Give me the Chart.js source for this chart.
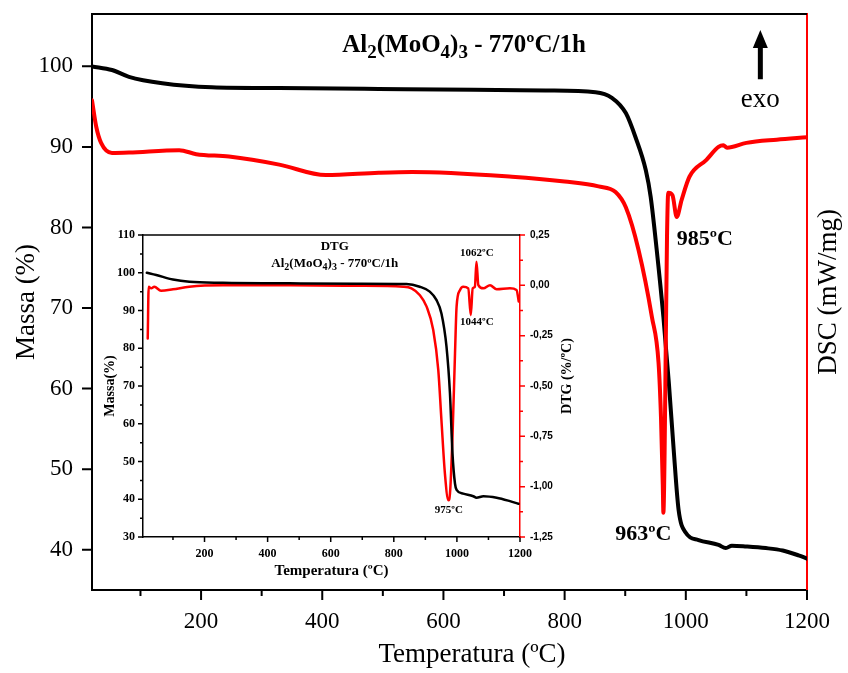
<!DOCTYPE html>
<html>
<head>
<meta charset="utf-8">
<script src="https://cdn.jsdelivr.net/npm/chart.js@4.4.0/dist/chart.umd.min.js"></script>
<style>
  html, body { margin: 0; padding: 0; background: #fff; }
  #wrap { position: relative; width: 848px; height: 673px; }
  #mainChart { position: absolute; left: 0; top: 0; }
  #insetChart { position: absolute; left: 90px; top: 222px; }
</style>
</head>
<body>
<div id="wrap">
  <canvas id="mainChart" width="848" height="673"></canvas>
  <canvas id="insetChart" width="500" height="363"></canvas>
</div>
<script>
// main TG curve (black): temperature ºC / mass %
const tgTemp = [20, 53, 81, 136, 218, 329, 493, 650, 769, 851, 878, 901, 917, 934, 942, 952, 963, 972, 980, 988, 1000, 1021, 1054, 1066, 1076, 1100, 1132, 1160, 1186, 1200];
const tgMass = [100.0, 99.55, 98.7, 97.9, 97.4, 97.3, 97.2, 97.1, 97.0, 96.8, 96.1, 94.2, 91.2, 87.1, 83.8, 77.2, 68.9, 60.7, 52.4, 45.0, 42.1, 41.2, 40.6, 40.2, 40.5, 40.4, 40.2, 39.9, 39.3, 38.9];

// main DSC curve (red) - the DSC axis has no ticks, so relative units
const dscTemp = [20, 27, 35, 53, 81, 164, 192, 246, 329, 406, 493, 548, 713, 800, 856, 884, 901, 922, 944, 955, 959, 962, 963, 965, 967, 969, 971, 978, 985, 993, 1006, 1034, 1054, 1062, 1068, 1100, 1150, 1200];
const dscSignal = [95.8, 92.5, 90.5, 89.25, 89.3, 89.6, 89.1, 88.8, 87.8, 86.5, 86.8, 86.9, 86.3, 85.7, 85.1, 84.4, 82.5, 77.2, 68.9, 63.2, 56.5, 48.0, 44.6, 52.0, 66.0, 79.0, 84.3, 84.0, 81.3, 83.4, 86.3, 88.4, 90.0, 90.2, 89.9, 90.5, 90.9, 91.2];

// inset TG curve
const insetTgTemp = [17, 47, 100, 152, 258, 470, 681, 840, 882, 914, 935, 951, 967, 978, 986, 994, 999, 1020, 1052, 1062, 1084, 1126, 1168, 1195];
const insetTgMass = [100.0, 99.4, 98.2, 97.6, 97.35, 97.2, 97.1, 97.0, 96.3, 95.0, 92.8, 89.2, 80.4, 68.0, 52.1, 44.1, 42.5, 41.5, 40.8, 40.4, 40.8, 40.4, 39.5, 38.8];

// inset DTG curve (%/ºC)
const dtgTemp = [20, 23, 31, 41, 62, 100, 152, 258, 470, 681, 830, 856, 882, 904, 925, 941, 951, 962, 973, 978, 986, 994, 999, 1010, 1020, 1036, 1044, 1050, 1057, 1062, 1068, 1084, 1105, 1126, 1168, 1189, 1196];
const dtgValue = [-0.264, -0.007, -0.015, -0.007, -0.027, -0.02, -0.007, 0.0, 0.0, -0.002, -0.007, -0.015, -0.048, -0.106, -0.222, -0.421, -0.67, -0.935, -1.068, -1.035, -0.753, -0.338, -0.106, -0.023, -0.007, -0.015, -0.148, -0.015, -0.007, 0.117, 0.001, -0.015, 0.001, -0.02, -0.015, -0.023, -0.08];

const mainTempTicks = [200, 400, 600, 800, 1000, 1200];
const mainTempMinor = [100, 300, 500, 700, 900, 1100];
const mainMassTicks = [40, 50, 60, 70, 80, 90, 100];
const insetTempTicks = [200, 400, 600, 800, 1000, 1200];
const insetTempMinor = [100, 300, 500, 700, 900, 1100];
const insetMassTicks = [30, 40, 50, 60, 70, 80, 90, 100, 110];
const insetMassMinor = [35, 45, 55, 65, 75, 85, 95, 105];
const dtgTicks = [-1.25, -1, -0.75, -0.5, -0.25, 0, 0.25];
const dtgMinor = [-1.125, -0.875, -0.625, -0.375, -0.125, 0.125];

const RED = '#ff0000';
const serif = "'Liberation Serif', 'Times New Roman', serif";
const sans = "'Liberation Sans', Arial, sans-serif";
Chart.defaults.font.family = serif;
Chart.defaults.color = '#000';

const pairs = (xs, ys) => xs.map((x, i) => ({ x: x, y: ys[i] }));
const fixTicks = vals => scale => { scale.ticks = vals.map(v => ({ value: v })); };
const plain = v => String(v);

// draws text with subscript parts: parts = [[text, isSub], ...]
function drawRich(ctx, parts, x, y, size, weight, align) {
    const subSize = Math.round(size * 0.75);
    let total = 0;
    parts.forEach(p => {
        ctx.font = `${weight} ${p[1] ? subSize : size}px ${serif}`;
        total += ctx.measureText(p[0]).width;
    });
    let cx = align === 'center' ? x - total / 2 : (align === 'right' ? x - total : x);
    ctx.textAlign = 'left';
    ctx.textBaseline = 'alphabetic';
    parts.forEach(p => {
        ctx.font = `${weight} ${p[1] ? subSize : size}px ${serif}`;
        ctx.fillText(p[0], cx, p[1] ? y + size * 0.25 : y);
        cx += ctx.measureText(p[0]).width;
    });
}

function drawVertical(ctx, text, x, y, font) {
    ctx.save();
    ctx.translate(x, y);
    ctx.rotate(-Math.PI / 2);
    ctx.font = font;
    ctx.textAlign = 'center';
    ctx.textBaseline = 'middle';
    ctx.fillText(text, 0, 0);
    ctx.restore();
}

// vertical axes: no extra top/bottom room for the end labels
const fitVertical = w => s => { s.width = w; s.paddingTop = 0; s.paddingBottom = 0; };

// outward tick marks, major and minor
const tickMarks = {
    id: 'tickMarks',
    afterDraw(chart, args, opts) {
        const ctx = chart.ctx;
        ctx.save();
        (opts.marks || []).forEach(m => {
            const scale = chart.scales[m.axis];
            ctx.strokeStyle = m.color;
            ctx.lineWidth = m.width;
            ctx.beginPath();
            m.values.forEach(v => {
                const p = scale.getPixelForValue(v);
                if (scale.isHorizontal()) {
                    ctx.moveTo(p, scale.top);
                    ctx.lineTo(p, scale.top + m.length);
                } else if (scale.position === 'left') {
                    ctx.moveTo(scale.right, p);
                    ctx.lineTo(scale.right - m.length, p);
                } else {
                    ctx.moveTo(scale.left, p);
                    ctx.lineTo(scale.left + m.length, p);
                }
            });
            ctx.stroke();
        });
        // top frame line
        const a = chart.chartArea;
        ctx.strokeStyle = '#000';
        ctx.lineWidth = opts.frameWidth;
        ctx.beginPath();
        ctx.moveTo(a.left - opts.frameWidth / 2, a.top);
        ctx.lineTo(a.right, a.top);
        ctx.stroke();
        ctx.restore();
    }
};

const mainNotes = {
    id: 'mainNotes',
    afterDraw(chart) {
        const ctx = chart.ctx;
        const x = chart.scales.x, y = chart.scales.y;
        const a = chart.chartArea;
        ctx.save();
        ctx.fillStyle = '#000';
        drawRich(ctx, [['Al'], ['2', 1], ['(MoO'], ['4', 1], [')'], ['3', 1], [' - 770ºC/1h']],
            x.getPixelForValue(634), y.getPixelForValue(101.8), 25, 'bold', 'center');
        drawRich(ctx, [['985ºC']], x.getPixelForValue(985), y.getPixelForValue(77.8), 22, 'bold', 'left');
        drawRich(ctx, [['963ºC']], x.getPixelForValue(930), y.getPixelForValue(41.2), 22, 'bold', 'center');
        drawRich(ctx, [['exo']], x.getPixelForValue(1123), y.getPixelForValue(95.0), 27, 'normal', 'center');
        // exo arrow
        const ax = x.getPixelForValue(1123);
        const top = y.getPixelForValue(104.5), bot = y.getPixelForValue(98.4);
        ctx.strokeStyle = '#000';
        ctx.lineWidth = 5;
        ctx.beginPath();
        ctx.moveTo(ax, bot);
        ctx.lineTo(ax, top + 14);
        ctx.stroke();
        ctx.beginPath();
        ctx.moveTo(ax, top);
        ctx.lineTo(ax - 7.5, top + 18);
        ctx.lineTo(ax + 7.5, top + 18);
        ctx.closePath();
        ctx.fill();
        // axis titles
        ctx.font = `27px ${serif}`;
        ctx.textAlign = 'center';
        ctx.textBaseline = 'middle';
        ctx.fillText('Temperatura (ºC)', 472, 655);
        drawVertical(ctx, 'DSC (mW/mg)', a.right + 22, 292, `27px ${serif}`);
        ctx.restore();
    }
};

const insetNotes = {
    id: 'insetNotes',
    afterDraw(chart) {
        const ctx = chart.ctx;
        const x = chart.scales.x, d = chart.scales.y1;
        const a = chart.chartArea;
        ctx.save();
        ctx.fillStyle = '#000';
        drawRich(ctx, [['DTG']], x.getPixelForValue(613), d.getPixelForValue(0.175), 13, 'bold', 'center');
        drawRich(ctx, [['Al'], ['2', 1], ['(MoO'], ['4', 1], [')'], ['3', 1], [' - 770ºC/1h']],
            x.getPixelForValue(613), d.getPixelForValue(0.09), 13, 'bold', 'center');
        drawRich(ctx, [['1062ºC']], x.getPixelForValue(1010), d.getPixelForValue(0.146), 11, 'bold', 'left');
        drawRich(ctx, [['1044ºC']], x.getPixelForValue(1010), d.getPixelForValue(-0.197), 11, 'bold', 'left');
        drawRich(ctx, [['975ºC']], x.getPixelForValue(930), d.getPixelForValue(-1.131), 11, 'bold', 'left');
        drawVertical(ctx, 'DTG (%/ºC)', a.right + 47, (a.top + a.bottom) / 2 - 10, `bold 14px ${serif}`);
        ctx.restore();
    }
};

new Chart(document.getElementById('mainChart'), {
    type: 'line',
    data: {
        datasets: [
            { label: 'DSC', data: pairs(dscTemp, dscSignal), yAxisID: 'y2', borderColor: RED, borderWidth: 4 },
            { label: 'TG', data: pairs(tgTemp, tgMass), yAxisID: 'y', borderColor: '#000', borderWidth: 4 }
        ]
    },
    options: {
        responsive: false,
        animation: false,
        events: [],
        layout: { padding: { top: 14, left: 0, right: 0, bottom: 0 } },
        elements: {
            point: { radius: 0 },
            line: { cubicInterpolationMode: 'monotone', borderCapStyle: 'round', borderJoinStyle: 'round' }
        },
        plugins: {
            legend: { display: false },
            tooltip: { enabled: false },
            tickMarks: {
                frameWidth: 2,
                marks: [
                    { axis: 'x', values: mainTempTicks, length: 10, width: 2, color: '#000' },
                    { axis: 'x', values: mainTempMinor, length: 6, width: 2, color: '#000' },
                    { axis: 'y', values: mainMassTicks, length: 10, width: 2, color: '#000' }
                ]
            }
        },
        scales: {
            x: {
                type: 'linear', min: 20, max: 1200,
                afterBuildTicks: fixTicks(mainTempTicks),
                afterFit: s => { s.height = 83; },
                grid: { display: false, drawTicks: true, tickLength: 10 },
                border: { color: '#000', width: 2 },
                ticks: { font: { size: 23 }, padding: 8, maxRotation: 0, autoSkip: false, callback: plain }
            },
            y: {
                position: 'left', min: 35, max: 106.5,
                afterBuildTicks: fixTicks(mainMassTicks),
                afterFit: fitVertical(92),
                grid: { display: false, drawTicks: true, tickLength: 10 },
                border: { color: '#000', width: 2 },
                ticks: { font: { size: 23 }, padding: 9, callback: plain },
                title: { display: true, text: 'Massa (%)', font: { size: 27 }, padding: { top: 11, bottom: 0 } }
            },
            y2: {
                position: 'right', min: 35, max: 106.5,
                afterFit: fitVertical(41),
                grid: { display: false, drawTicks: false },
                border: { color: RED, width: 2 },
                ticks: { display: false }
            }
        }
    },
    plugins: [tickMarks, mainNotes]
});

new Chart(document.getElementById('insetChart'), {
    type: 'line',
    data: {
        datasets: [
            { label: 'TG', data: pairs(insetTgTemp, insetTgMass), yAxisID: 'y', borderColor: '#000', borderWidth: 2.5 },
            { label: 'DTG', data: pairs(dtgTemp, dtgValue), yAxisID: 'y1', borderColor: RED, borderWidth: 2.5 }
        ]
    },
    options: {
        responsive: false,
        animation: false,
        events: [],
        layout: { padding: { top: 13, left: 0, right: 0, bottom: 0 } },
        elements: {
            point: { radius: 0 },
            line: { cubicInterpolationMode: 'monotone', borderCapStyle: 'round', borderJoinStyle: 'round' }
        },
        plugins: {
            legend: { display: false },
            tooltip: { enabled: false },
            tickMarks: {
                frameWidth: 1.5,
                marks: [
                    { axis: 'x', values: insetTempTicks, length: 5, width: 1.5, color: '#000' },
                    { axis: 'x', values: insetTempMinor, length: 3, width: 1.5, color: '#000' },
                    { axis: 'y', values: insetMassTicks, length: 5, width: 1.5, color: '#000' },
                    { axis: 'y', values: insetMassMinor, length: 3, width: 1.5, color: '#000' },
                    { axis: 'y1', values: dtgTicks, length: 5, width: 1.5, color: RED },
                    { axis: 'y1', values: dtgMinor, length: 3, width: 1.5, color: RED }
                ]
            }
        },
        scales: {
            x: {
                type: 'linear', min: 5, max: 1200,
                afterBuildTicks: fixTicks(insetTempTicks),
                afterFit: s => { s.height = 48; },
                grid: { display: false, drawTicks: true, tickLength: 5 },
                border: { color: '#000', width: 1.5 },
                ticks: { font: { size: 12, weight: 'bold' }, padding: 5, maxRotation: 0, autoSkip: false, callback: plain },
                title: { display: true, text: 'Temperatura (ºC)', font: { size: 15, weight: 'bold' }, padding: { top: 0, bottom: 5 } }
            },
            y: {
                position: 'left', min: 30, max: 110,
                afterBuildTicks: fixTicks(insetMassTicks),
                afterFit: fitVertical(53),
                grid: { display: false, drawTicks: true, tickLength: 5 },
                border: { color: '#000', width: 1.5 },
                ticks: { font: { size: 12, weight: 'bold' }, padding: 3, callback: plain },
                title: { display: true, text: 'Massa(%)', font: { size: 14, weight: 'bold' }, padding: { top: 12, bottom: 0 } }
            },
            y1: {
                position: 'right', min: -1.25, max: 0.25,
                afterBuildTicks: fixTicks(dtgTicks),
                afterFit: fitVertical(70),
                grid: { display: false, drawTicks: true, tickLength: 5 },
                border: { color: RED, width: 1.5 },
                ticks: {
                    font: { family: sans, size: 10, weight: 'bold' }, padding: 5,
                    callback: v => (Math.abs(v) < 1e-9 ? 0 : v).toFixed(2).replace('.', ',')
                }
            }
        }
    },
    plugins: [tickMarks, insetNotes]
});
</script>
</body>
</html>
